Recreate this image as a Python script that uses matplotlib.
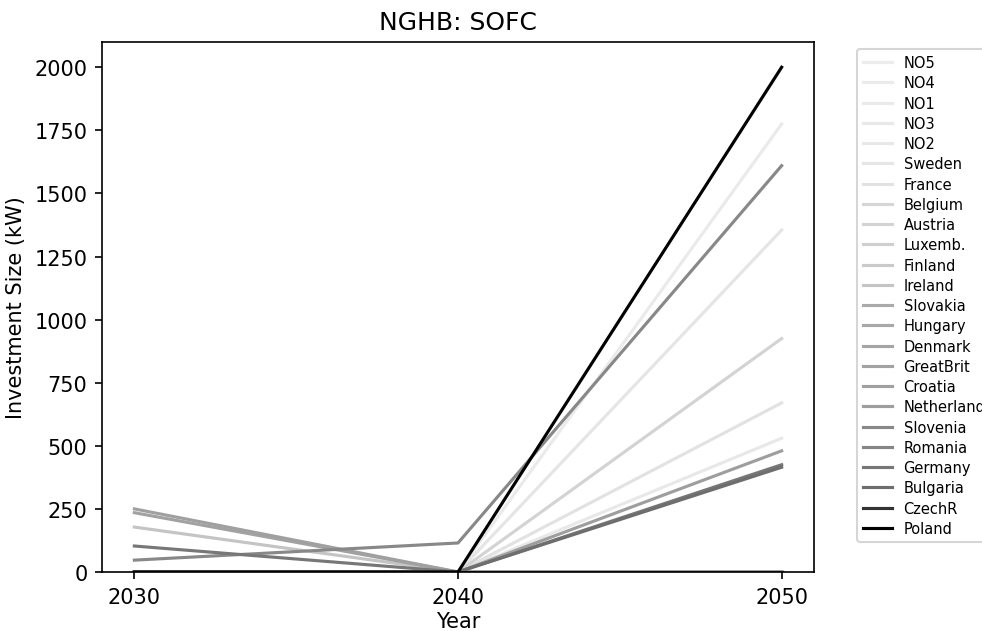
import matplotlib
matplotlib.use("Agg")
import matplotlib.pyplot as plt

years = [2030, 2040, 2050]

countries = ["NO5", "NO4", "NO1", "NO3", "NO2", "Sweden", "France", "Belgium",
             "Austria", "Luxemb.", "Finland", "Ireland", "Slovakia", "Hungary",
             "Denmark", "GreatBrit", "Croatia", "Netherlands", "Slovenia",
             "Romania", "Germany", "Bulgaria", "CzechR", "Poland"]

NO5 = [0, 0, 0]
NO4 = [0, 0, 0]
NO1 = [0, 0, 1775]
NO3 = [0, 0, 0]
NO2 = [0, 0, 530]
Sweden = [0, 0, 1355]
France = [0, 0, 670]
Belgium = [0, 0, 0]
Austria = [0, 0, 925]
Luxemb = [0, 0, 0]
Finland = [0, 0, 0]
Ireland = [178, 0, 0]
Slovakia = [0, 0, 0]
Hungary = [0, 0, 0]
Denmark = [0, 0, 0]
GreatBrit = [235, 0, 0]
Croatia = [250, 0, 0]
Netherlands = [0, 0, 480]
Slovenia = [47, 115, 1610]
Romania = [0, 0, 0]
Germany = [103, 0, 425]
Bulgaria = [0, 0, 415]
CzechR = [0, 0, 0]
Poland = [0, 0, 2000]

series = [NO5, NO4, NO1, NO3, NO2, Sweden, France, Belgium, Austria, Luxemb,
          Finland, Ireland, Slovakia, Hungary, Denmark, GreatBrit, Croatia,
          Netherlands, Slovenia, Romania, Germany, Bulgaria, CzechR, Poland]

colors = ["#ececec", "#ebebeb", "#eaeaea", "#e9e9e9", "#e8e8e8", "#e5e5e5",
          "#e2e2e2", "#d6d6d6", "#d3d3d3", "#cfcfcf", "#cacaca", "#c4c4c4",
          "#aaaaaa", "#a8a8a8", "#a5a5a5", "#a2a2a2", "#a0a0a0", "#9e9e9e",
          "#888888", "#858585", "#777777", "#6e6e6e", "#333333", "#000000"]

fig = plt.figure(figsize=(982 / 150, 632 / 150), dpi=150)
ax = fig.add_axes([102 / 982, 1 - 573 / 632, (814 - 102) / 982, (573 - 43) / 632])

for name, vals, c in zip(countries, series, colors):
    ax.plot(years, vals, color=c, lw=1.5, label=name)

ax.set_ylim(bottom=0)
ax.set_xticks(years)
ax.set_xlabel("Year", labelpad=2)
ax.set_ylabel("Investment Size (kW)")
ax.set_title("NGHB: SOFC")
ax.legend(bbox_to_anchor=(1.05, 1), loc="upper left", fontsize=7,
          labelspacing=0.36)

fig.savefig("out.png", dpi=150)
